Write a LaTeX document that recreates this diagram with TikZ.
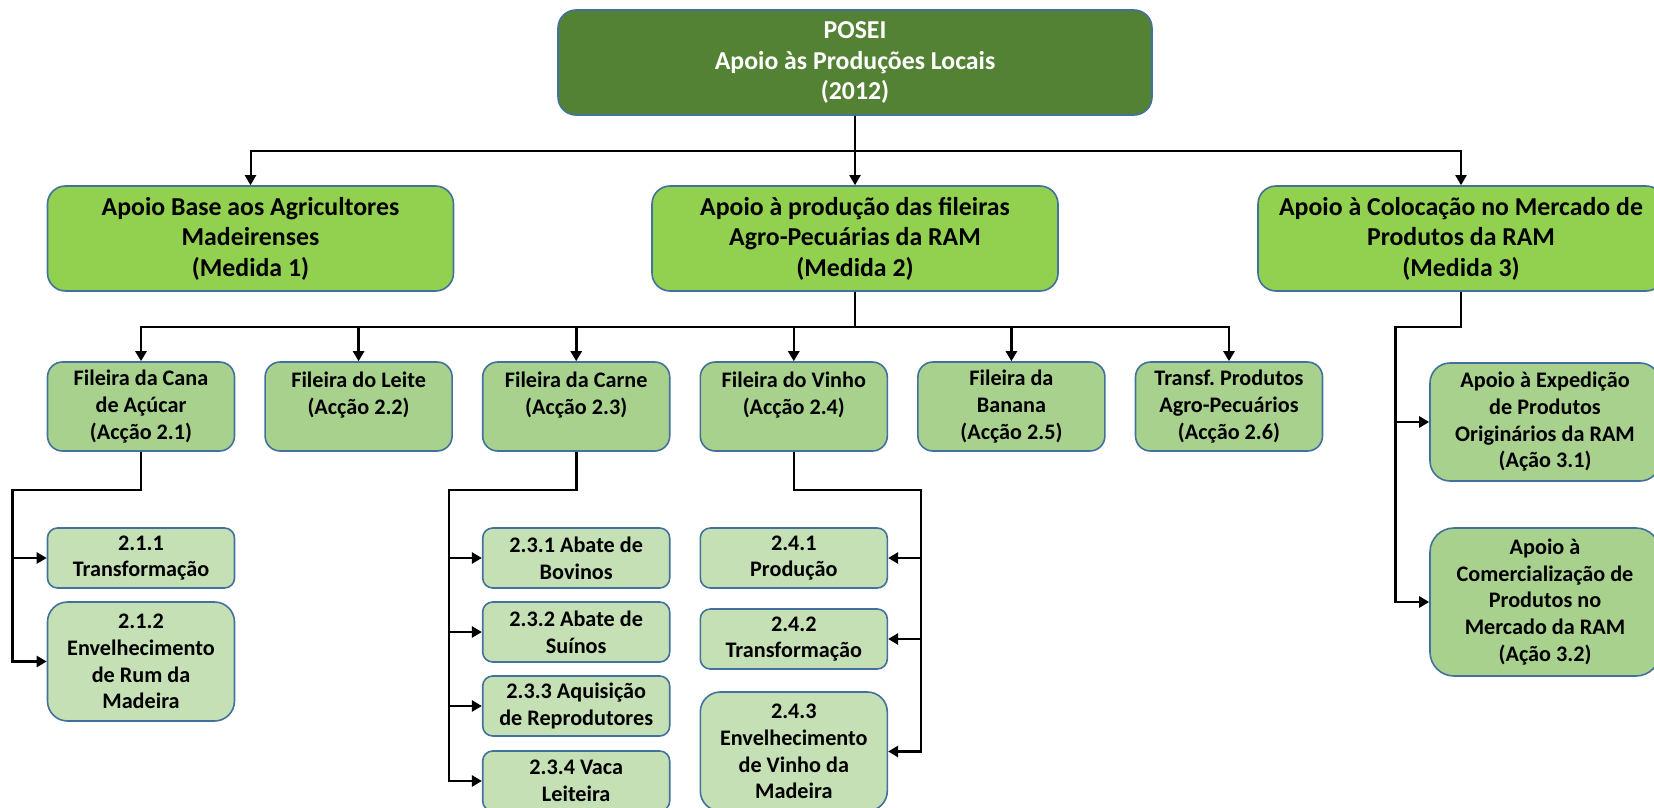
\documentclass[tikz,border=0pt]{standalone}
\usepackage{fontspec}
\setmainfont{Carlito}
\usetikzlibrary{arrows.meta}
\definecolor{cdark}{HTML}{548235}
\definecolor{cmed}{HTML}{92D050}
\definecolor{clight}{HTML}{A9D18E}
\definecolor{cpale}{HTML}{C5E0B4}
\definecolor{cedge}{HTML}{41719C}

\begin{document}
\begin{tikzpicture}[
    x={(0.5pt,0pt)}, y={(0pt,-0.5pt)},
    >={Triangle[length=5pt,width=5.5pt]},
    box/.style={draw=cedge, line width=0.8pt, align=center, inner sep=1pt},
    bigfont/.style={font=\fontsize{12.9}{15.25}\selectfont\bfseries},
    smallfont/.style={font=\fontsize{11.1}{13.35}\selectfont\bfseries},
    headbox/.style={box, bigfont, fill=cdark, text=white, minimum width=297pt, minimum height=52.5pt, rounded corners=9pt},
    medbox/.style={box, bigfont, fill=cmed, minimum width=203pt, minimum height=52.5pt, rounded corners=9pt},
    lvlbox/.style={box, smallfont, fill=clight, minimum width=93.5pt, minimum height=44.5pt, rounded corners=7.5pt},
    subbox/.style={box, smallfont, fill=cpale, minimum width=93.5pt, minimum height=30pt, rounded corners=5pt},
    link/.style={->, line width=1.3pt},
  ]
  \useasboundingbox (0,0) rectangle (1654,808);
  \clip (0,0) rectangle (1654,808);

  % programme
  \node[headbox] (top) at (855,62.5) {POSEI\\Apoio às Produções Locais\\(2012)};

  % measures
  \node[medbox] (m1) at (250.5,238.5) {Apoio Base aos Agricultores\\Madeirenses\\(Medida 1)};
  \node[medbox] (m2) at (855,238.5) {Apoio à produção das fileiras\\Agro-Pecuárias da RAM\\(Medida 2)};
  \node[medbox] (m3) at (1461,238.5) {Apoio à Colocação no Mercado de\\Produtos da RAM\\(Medida 3)};

  % actions of measure 2 (text kept at the top of the box)
  \node[lvlbox] (l1) at (141,406.5) {Fileira da Cana\\de Açúcar\\(Acção 2.1)};
  \node[lvlbox] (l2) at (358.6,406.5) {Fileira do Leite\\(Acção 2.2)\\\mbox{}};
  \node[lvlbox] (l3) at (576.2,406.5) {Fileira da Carne\\(Acção 2.3)\\\mbox{}};
  \node[lvlbox] (l4) at (793.8,406.5) {Fileira do Vinho\\(Acção 2.4)\\\mbox{}};
  \node[lvlbox] (l5) at (1011.4,406.5) {Fileira da\\Banana\\(Acção 2.5)};
  \node[lvlbox] (l6) at (1229,406.5) {Transf.\ Produtos\\Agro-Pecuários\\(Acção 2.6)};

  % sub-actions
  \node[subbox] (s211) at (141,558) {2.1.1\\Transformação};
  \node[subbox, minimum height=59.5pt, rounded corners=10pt] (s212) at (141,661.5) {2.1.2\\Envelhecimento\\de Rum da\\Madeira};

  \node[subbox] (s231) at (576.2,558) {2.3.1 Abate de\\Bovinos};
  \node[subbox] (s232) at (576.2,632) {2.3.2 Abate de\\Suínos};
  \node[subbox] (s233) at (576.2,706) {2.3.3 Aquisição\\de Reprodutores};
  \node[subbox] (s234) at (576.2,781) {2.3.4 Vaca\\Leiteira};

  \node[subbox] (s241) at (793.8,558) {2.4.1\\Produção};
  \node[subbox] (s242) at (793.8,639) {2.4.2\\Transformação};
  \node[subbox, minimum height=59.5pt, rounded corners=10pt] (s243) at (793.8,751.5) {2.4.3\\Envelhecimento\\de Vinho da\\Madeira};

  % actions of measure 3
  \node[lvlbox, minimum width=115pt, minimum height=59pt, rounded corners=10pt] (s31) at (1545,422)
    {Apoio à Expedição\\de Produtos\\Originários da RAM\\(Ação 3.1)};
  \node[lvlbox, minimum width=115pt, minimum height=74pt, rounded corners=12pt] (s32) at (1545,602)
    {Apoio à\\Comercialização de\\Produtos no\\Mercado da RAM\\(Ação 3.2)};

  % connectors
  \draw[link, line width=1pt] (top.south) -- ++(0,35) -| (m1.north);
  \draw[link, line width=1pt] (top.south) -- (m2.north);
  \draw[link, line width=1pt] (top.south) -- ++(0,35) -| (m3.north);

  \foreach \n in {l1,l2,l3,l4,l5,l6}
    \draw[link] (m2.south) -- ++(0,35) -| (\n.north);

  \foreach \n in {s211,s212}
    \draw[link] (l1.south) -- ++(0,38) -| ([xshift=-17pt]\n.west) -- (\n.west);
  \foreach \n in {s231,s232,s233,s234}
    \draw[link] (l3.south) -- ++(0,38) -| ([xshift=-16.5pt]\n.west) -- (\n.west);
  \foreach \n in {s241,s242,s243}
    \draw[link] (l4.south) -- ++(0,38) -| ([xshift=16.5pt]\n.east) -- (\n.east);
  \foreach \n in {s31,s32}
    \draw[link] (m3.south) -- ++(0,35) -| ([xshift=-17pt]\n.west) -- (\n.west);
\end{tikzpicture}
\end{document}
